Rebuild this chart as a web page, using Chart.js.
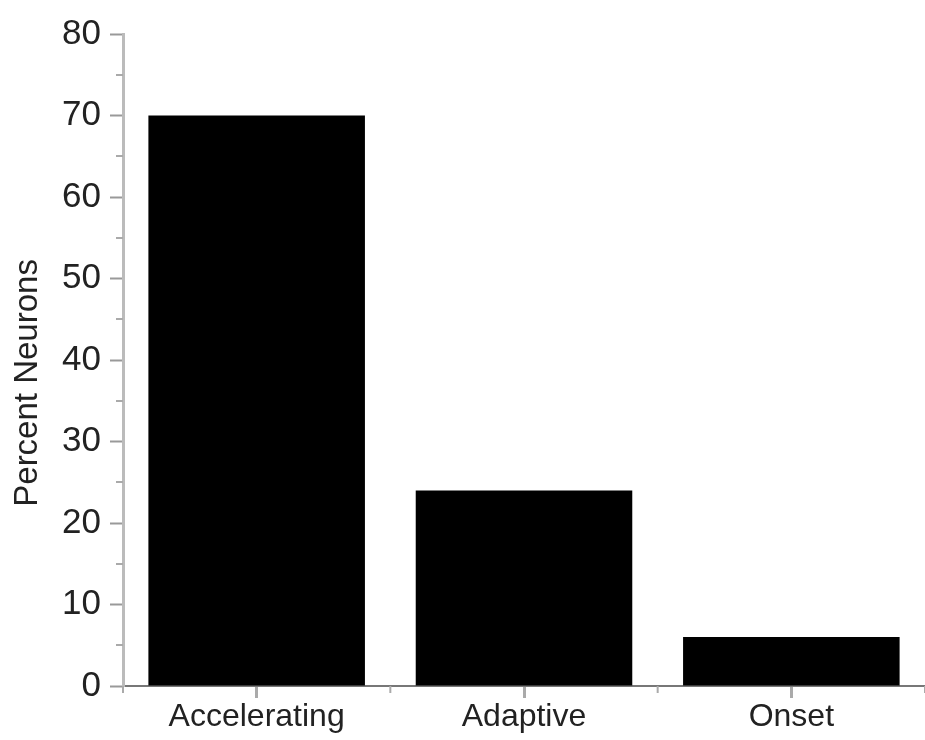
<!DOCTYPE html>
<html>
<head>
<meta charset="utf-8">
<script src="https://cdn.jsdelivr.net/npm/chart.js@4/dist/chart.umd.min.js"></script>
<style>
    html, body { margin: 0; padding: 0; background: #fff; }
    #wrap { width: 925px; height: 740px; position: relative; }
</style>
</head>
<body>
<div id="wrap"><canvas id="neurons"></canvas></div>
<script>
    const categories = ['Accelerating', 'Adaptive', 'Onset'];
    const percentNeurons = [70, 24, 6];
    const yMin = 0;
    const yMax = 80;
    const yMajorStep = 10;
    const yMinorStep = 5;

    // small extra ticks: y minor ticks and x category boundaries
    const minorTicks = {
        id: 'minorTicks',
        afterDraw(chart) {
            const ctx = chart.ctx;
            const y = chart.scales.y;
            const x = chart.scales.x;
            ctx.save();
            ctx.strokeStyle = '#aaa';
            ctx.lineWidth = 2;
            for (let v = yMin + yMinorStep; v < yMax; v += yMajorStep) {
                const py = Math.round(y.getPixelForValue(v));
                ctx.beginPath();
                ctx.moveTo(x.left - 7, py);
                ctx.lineTo(x.left, py);
                ctx.stroke();
            }
            for (let i = 0; i <= categories.length; i++) {
                const px = x.getPixelForValue(i - 0.5);
                ctx.beginPath();
                ctx.moveTo(px, y.bottom);
                ctx.lineTo(px, y.bottom + 7);
                ctx.stroke();
            }
            ctx.restore();
        }
    };

    const data = {
        labels: categories,
        datasets: [{
            label: 'Percent Neurons',
            data: percentNeurons,
            backgroundColor: '#000',
            borderColor: '#000',
            borderWidth: 0,
            barPercentage: 0.81,
            categoryPercentage: 1.0,
        }]
    };

    const config = {
        type: 'bar',
        data: data,
        options: {
            responsive: true,
            maintainAspectRatio: false,
            animation: false,
            layout: { padding: { top: 34, right: 0, left: 0, bottom: 0 } },
            plugins: {
                legend: { display: false },
                tooltip: { enabled: false }
            },
            scales: {
                x: {
                    afterFit: (s) => { s.height = 54; },
                    grid: {
                        offset: false,
                        drawOnChartArea: false,
                        tickLength: 12,
                        tickColor: '#aaa',
                        tickWidth: 3
                    },
                    border: { color: '#777', width: 2 },
                    ticks: {
                        color: '#222',
                        padding: 0,
                        font: { family: 'Liberation Sans', size: 32 }
                    }
                },
                y: {
                    min: yMin,
                    max: yMax,
                    afterFit: (s) => { s.width = 123; },
                    grid: {
                        drawOnChartArea: false,
                        tickLength: 13,
                        tickColor: '#999',
                        tickWidth: 2
                    },
                    border: { color: '#bbb', width: 3 },
                    ticks: {
                        stepSize: yMajorStep,
                        color: '#222',
                        padding: 9,
                        font: { family: 'Liberation Sans', size: 35 }
                    },
                    title: {
                        display: true,
                        // trailing spaces nudge the title a bit lower, like the original
                        text: 'Percent Neurons\u00a0\u00a0\u00a0\u00a0\u00a0',
                        color: '#222',
                        padding: { top: 8, bottom: 0 },
                        font: { family: 'Liberation Sans', size: 33 }
                    }
                }
            }
        },
        plugins: [minorTicks]
    };

    const neuronChart = new Chart(document.getElementById('neurons'), config);
</script>
</body>
</html>
